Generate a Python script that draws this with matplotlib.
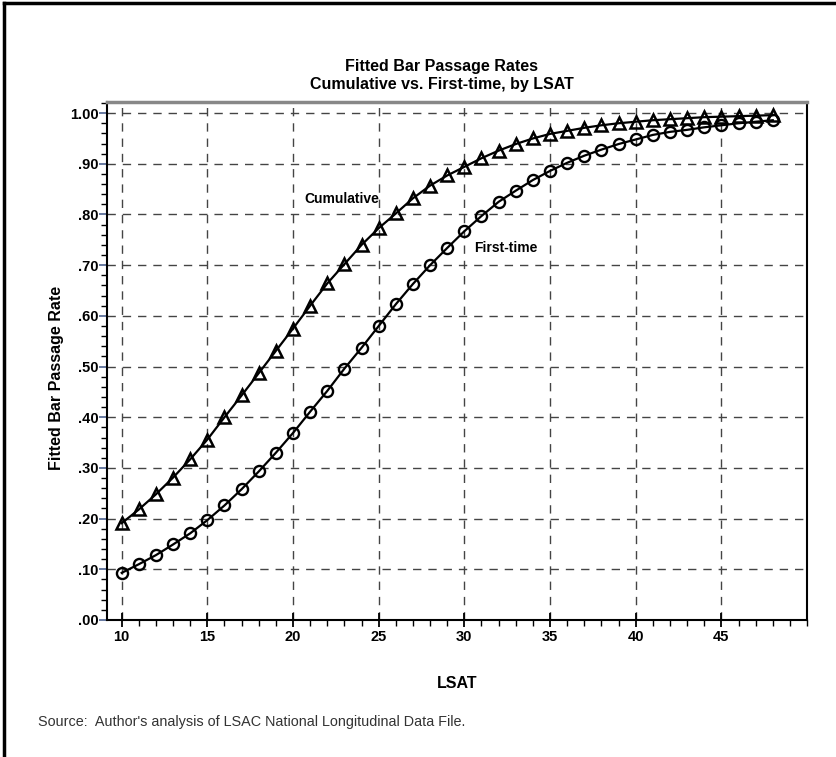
import matplotlib
matplotlib.use("Agg")
import matplotlib.pyplot as plt
from matplotlib.lines import Line2D
from matplotlib.ticker import MultipleLocator, FixedLocator

plt.rcParams['font.family'] = ['Liberation Sans', 'DejaVu Sans']

# LSAT scores (integer steps)
lsat = list(range(10, 49))

# fitted cumulative pass rates (triangles)
cumulative = [0.191, 0.218, 0.248, 0.281, 0.317, 0.356, 0.400, 0.443, 0.487, 0.531,
              0.575, 0.620, 0.664, 0.702, 0.740, 0.773, 0.802, 0.832, 0.857, 0.877,
              0.894, 0.911, 0.926, 0.939, 0.950, 0.959, 0.965, 0.971, 0.976, 0.980,
              0.983, 0.986, 0.988, 0.990, 0.992, 0.993, 0.994, 0.995, 0.996]

# fitted first-time pass rates (circles)
first_time = [0.093, 0.110, 0.128, 0.149, 0.171, 0.197, 0.226, 0.258, 0.293, 0.330,
              0.369, 0.411, 0.452, 0.496, 0.537, 0.580, 0.623, 0.663, 0.700, 0.734,
              0.767, 0.797, 0.825, 0.847, 0.868, 0.886, 0.902, 0.916, 0.928, 0.939,
              0.948, 0.957, 0.963, 0.967, 0.972, 0.976, 0.980, 0.983, 0.986]

x_ticks = [10, 15, 20, 25, 30, 35, 40, 45]
y_ticks = [0.0, 0.1, 0.2, 0.3, 0.4, 0.5, 0.6, 0.7, 0.8, 0.9, 1.0]
y_labels = ['.00', '.10', '.20', '.30', '.40', '.50', '.60', '.70', '.80', '.90', '1.00']

fig = plt.figure(figsize=(8.37, 7.57), dpi=100)
ax = fig.add_axes([0.1282, 0.181, 0.8360, 0.6843])

ax.plot(lsat, cumulative, color='black', lw=1.6, marker='^', ms=8.5,
        mfc='none', mec='black', mew=1.8, zorder=3)
ax.plot(lsat, first_time, color='black', lw=1.6, marker='o', ms=8,
        mfc='none', mec='black', mew=1.7, zorder=3)

ax.set_xlim(9.16, 50)
ax.set_ylim(0, 1.022)

ax.xaxis.set_major_locator(FixedLocator(x_ticks))
ax.xaxis.set_minor_locator(MultipleLocator(1))
ax.yaxis.set_major_locator(FixedLocator(y_ticks))
ax.yaxis.set_minor_locator(MultipleLocator(0.02))
ax.set_xticklabels([str(t) for t in x_ticks], fontsize=10.5, fontweight='bold')
ax.set_yticklabels(y_labels, fontsize=10.5, fontweight='bold')

ax.tick_params(axis='x', which='major', direction='inout', length=10, width=1.3, pad=2)
ax.tick_params(axis='x', which='minor', direction='out', length=4, width=1)
ax.tick_params(axis='y', which='major', direction='out', length=6, width=1.3,
               color='#5a6e98', pad=0.5)
ax.tick_params(axis='y', which='minor', direction='out', length=4, width=1)

ax.grid(True, which='major', color='#444444', lw=1, linestyle=(0, (6, 5)))
ax.set_axisbelow(True)

for side in ['left', 'bottom', 'right']:
    ax.spines[side].set_color('black')
    ax.spines[side].set_linewidth(1.5)
ax.spines['top'].set_color('#888888')
ax.spines['top'].set_linewidth(2.5)

ax.set_xlabel('LSAT', fontsize=11.5, fontweight='bold', labelpad=23)
ax.set_ylabel('Fitted Bar Passage Rate', fontsize=11.5, fontweight='bold')
ax.yaxis.set_label_coords(-0.062, 0.468)

ax.text(20.65, 0.83, 'Cumulative', fontsize=10, fontweight='bold', va='center', ha='left')
ax.text(30.55, 0.733, 'First-time', fontsize=10, fontweight='bold', va='center', ha='left')

fig.text(0.528, 1 - 66 / 757, 'Fitted Bar Passage Rates', fontsize=11.5, fontweight='bold',
         ha='center', va='center')
fig.text(0.528, 1 - 85 / 757, 'Cumulative vs. First-time, by LSAT', fontsize=11.5,
         fontweight='bold', ha='center', va='center')

fig.text(0.045, 1 - 722 / 757,
         "Source:  Author's analysis of LSAC National Longitudinal Data File.",
         fontsize=10.4, color='#333333', ha='left', va='center')

# outer frame (top and left edges only visible)
fig.add_artist(Line2D([0.005, 1.0], [0.996, 0.996], color='black', lw=2.5))
fig.add_artist(Line2D([0.005, 0.005], [0.0, 0.996], color='black', lw=2.5))

fig.savefig('out.png', dpi=100)
